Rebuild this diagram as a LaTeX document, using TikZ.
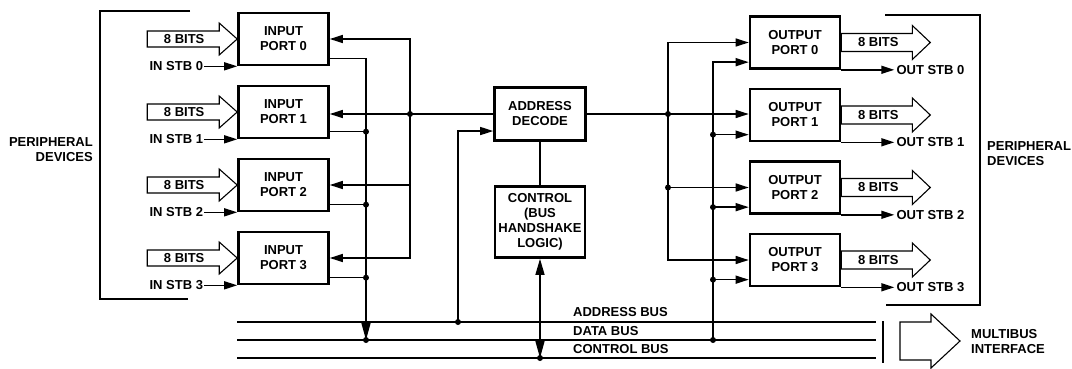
\documentclass[tikz,border=0pt]{standalone}
\usepackage{fontspec}
\setmainfont{Liberation Sans}
\usetikzlibrary{positioning,arrows.meta,calc}
\tikzset{
  flowarrow/.style={-{Triangle[length=13pt,width=8pt]}, line width=1.4pt},
  busarrow/.style={-{Triangle[length=17pt,width=9pt]}, line width=1.4pt},
  twoway/.style={{Triangle[length=16pt,width=9pt]}-{Triangle[length=17pt,width=9pt]}, line width=1.4pt},
  wire/.style={line width=1.4pt},
  thinline/.style={line width=1.1pt},
  portbox/.style={draw, line width=2.6pt, minimum width=90pt, minimum height=52pt, align=center},
  widearrow/.style={draw, line width=1.1pt, line join=miter}
}

\begin{document}
\begin{tikzpicture}[x=1pt, y=-1pt, >=Triangle, every node/.style={font=\fontsize{13}{15}\selectfont\bfseries, inner sep=1pt}]
  \useasboundingbox (0,0) rectangle (1072,368);

  % ports and logic
  \node[portbox] (inport0) at (283.5,39) {INPUT\\PORT 0};
  \node[portbox] (inport1) at (283.5,112) {INPUT\\PORT 1};
  \node[portbox] (inport2) at (283.5,185) {INPUT\\PORT 2};
  \node[portbox] (inport3) at (283.5,258) {INPUT\\PORT 3};
  \node[portbox] (outport0) at (795,42.5) {OUTPUT\\PORT 0};
  \node[portbox] (outport1) at (795,115) {OUTPUT\\PORT 1};
  \node[portbox] (outport2) at (795,187.5) {OUTPUT\\PORT 2};
  \node[portbox] (outport3) at (795,260) {OUTPUT\\PORT 3};
  \node[portbox, minimum width=91pt, minimum height=53pt] (decode) at (540,114) {ADDRESS\\DECODE};
  \node[portbox, minimum height=71pt, inner sep=0pt] (ctrl) at (540,222) {CONTROL\\(BUS\\HANDSHAKE\\LOGIC)};

  % peripheral side, input
  \draw[thinline] (190,11) -| (100,299) -- (188,299);
  \node[anchor=east, align=right] (periph-l) at (94,150) {PERIPHERAL\\DEVICES};
  \draw[widearrow] (inport0.west) -- ++(-18,-16) -- ++(0,8) -- ++(-72,0) -- ++(0,16) -- ++(72,0) -- ++(0,8) -- cycle;
  \draw[widearrow] (inport1.west) -- ++(-18,-16) -- ++(0,8) -- ++(-72,0) -- ++(0,16) -- ++(72,0) -- ++(0,8) -- cycle;
  \draw[widearrow] (inport2.west) -- ++(-18,-16) -- ++(0,8) -- ++(-72,0) -- ++(0,16) -- ++(72,0) -- ++(0,8) -- cycle;
  \draw[widearrow] (inport3.west) -- ++(-18,-16) -- ++(0,8) -- ++(-72,0) -- ++(0,16) -- ++(72,0) -- ++(0,8) -- cycle;
  \node (ibits0) at ($(inport0.west)+(-53,0)$) {8 BITS};
  \node (ibits1) at ($(inport1.west)+(-53,0)$) {8 BITS};
  \node (ibits2) at ($(inport2.west)+(-53,0)$) {8 BITS};
  \node (ibits3) at ($(inport3.west)+(-53,0)$) {8 BITS};
  \node[left=33pt of inport0.south west] (instb0) {IN STB 0};
  \node[left=33pt of inport1.south west] (instb1) {IN STB 1};
  \node[left=33pt of inport2.south west] (instb2) {IN STB 2};
  \node[left=33pt of inport3.south west] (instb3) {IN STB 3};
  \draw[flowarrow] (instb0) -- (instb0 -| inport0.west);
  \draw[flowarrow] (instb1) -- (instb1 -| inport1.west);
  \draw[flowarrow] (instb2) -- (instb2 -| inport2.west);
  \draw[flowarrow] (instb3) -- (instb3 -| inport3.west);

  % peripheral side, output
  \draw[thinline] (885,15) -| (980,305) -- (886,305);
  \node[anchor=west, align=left] (periph-r) at (986,154) {PERIPHERAL\\DEVICES};
  \draw[widearrow] (outport0.east) -- ++(0,-9) -- ++(71,0) -- ++(0,-8) -- ++(18,17) -- ++(-18,17) -- ++(0,-8) -- ++(-71,0) -- cycle;
  \draw[widearrow] (outport1.east) -- ++(0,-9) -- ++(71,0) -- ++(0,-8) -- ++(18,17) -- ++(-18,17) -- ++(0,-8) -- ++(-71,0) -- cycle;
  \draw[widearrow] (outport2.east) -- ++(0,-9) -- ++(71,0) -- ++(0,-8) -- ++(18,17) -- ++(-18,17) -- ++(0,-8) -- ++(-71,0) -- cycle;
  \draw[widearrow] (outport3.east) -- ++(0,-9) -- ++(71,0) -- ++(0,-8) -- ++(18,17) -- ++(-18,17) -- ++(0,-8) -- ++(-71,0) -- cycle;
  \node (obits0) at ($(outport0.east)+(37,0)$) {8 BITS};
  \node (obits1) at ($(outport1.east)+(37,0)$) {8 BITS};
  \node (obits2) at ($(outport2.east)+(37,0)$) {8 BITS};
  \node (obits3) at ($(outport3.east)+(37,0)$) {8 BITS};
  \node[right=53pt of outport0.south east, inner sep=2pt] (outstb0) {OUT STB 0};
  \node[right=53pt of outport1.south east, inner sep=2pt] (outstb1) {OUT STB 1};
  \node[right=53pt of outport2.south east, inner sep=2pt] (outstb2) {OUT STB 2};
  \node[right=53pt of outport3.south east, inner sep=2pt] (outstb3) {OUT STB 3};
  \draw[flowarrow] (outport0.south east) -- (outstb0.west);
  \draw[flowarrow] (outport1.south east) -- (outstb1.west);
  \draw[flowarrow] (outport2.south east) -- (outstb2.west);
  \draw[flowarrow] (outport3.south east) -- (outstb3.west);

  % buses
  \coordinate (abus-w) at (237,322);
  \coordinate (abus-e) at (876,322);
  \coordinate (dbus-w) at (237,340);
  \coordinate (dbus-e) at (876,340);
  \coordinate (cbus-w) at (237,358);
  \coordinate (cbus-e) at (876,358);
  \draw[wire] (abus-w) -- (abus-e);
  \draw[wire] (dbus-w) -- (dbus-e);
  \draw[wire] (cbus-w) -- (cbus-e);
  \node[anchor=west] (abus-lbl) at (572,312) {ADDRESS BUS};
  \node[anchor=west] (dbus-lbl) at (572,331) {DATA BUS};
  \node[anchor=west] (cbus-lbl) at (572,349) {CONTROL BUS};
  \draw[thinline] (883,321) -- (883,363);
  \draw[widearrow] (900,322) -- (931,322) -- (931,314) -- (960,341) -- (931,368) -- (931,360) -- (900,360) -- cycle;
  \node[anchor=west, align=left] (multibus) at (970,342) {MULTIBUS\\INTERFACE};

  % address decode fan-out
  \coordinate (asel-in) at (410,114);
  \coordinate (asel-out) at (668,114);
  \draw[flowarrow] (decode.west) -- (decode.west -| inport1.east);
  \draw[flowarrow] (asel-in) |- (inport0.east);
  \draw[flowarrow] (asel-in) |- (inport2.east);
  \draw[flowarrow] (asel-in) |- (inport3.east);
  \draw[flowarrow] (decode.east) -- (decode.east -| outport1.west);
  \draw[flowarrow] (asel-out) |- (outport0.west);
  \draw[flowarrow] (asel-out) |- (outport2.west);
  \draw[flowarrow] (asel-out) |- (outport3.west);
  \fill (asel-in) circle (3pt);
  \fill (asel-out) circle (3pt);
  \fill (asel-out |- outport2.west) circle (3pt);

  % data lines
  \coordinate (dtap-in) at (366,340);
  \coordinate (dtap-out) at (713,340);
  \draw[busarrow] (inport0.-23) -| (dtap-in);
  \draw[wire] (inport1.-23) -- (inport1.-23 -| dtap-in);
  \draw[wire] (inport2.-23) -- (inport2.-23 -| dtap-in);
  \draw[wire] (inport3.-23) -- (inport3.-23 -| dtap-in);
  \fill (inport1.-23 -| dtap-in) circle (3pt);
  \fill (inport2.-23 -| dtap-in) circle (3pt);
  \fill (inport3.-23 -| dtap-in) circle (3pt);
  \fill (dtap-in) circle (3pt);
  \draw[flowarrow] (dtap-out) |- (outport0.203);
  \draw[flowarrow] (dtap-out) |- (outport1.203);
  \draw[flowarrow] (dtap-out) |- (outport2.203);
  \draw[flowarrow] (dtap-out) |- (outport3.203);
  \fill (dtap-out |- outport1.203) circle (3pt);
  \fill (dtap-out |- outport2.203) circle (3pt);
  \fill (dtap-out |- outport3.203) circle (3pt);
  \fill (dtap-out) circle (3pt);

  % address and control taps
  \coordinate (atap) at (458,322);
  \coordinate (ctap) at (540,358);
  \draw[flowarrow] (atap) |- (decode.200);
  \fill (atap) circle (3pt);
  \draw[wire] (decode.south) -- (ctrl.north);
  \draw[twoway] (ctrl.south) -- (ctap);
  \fill (ctap) circle (3pt);
\end{tikzpicture}
\end{document}
